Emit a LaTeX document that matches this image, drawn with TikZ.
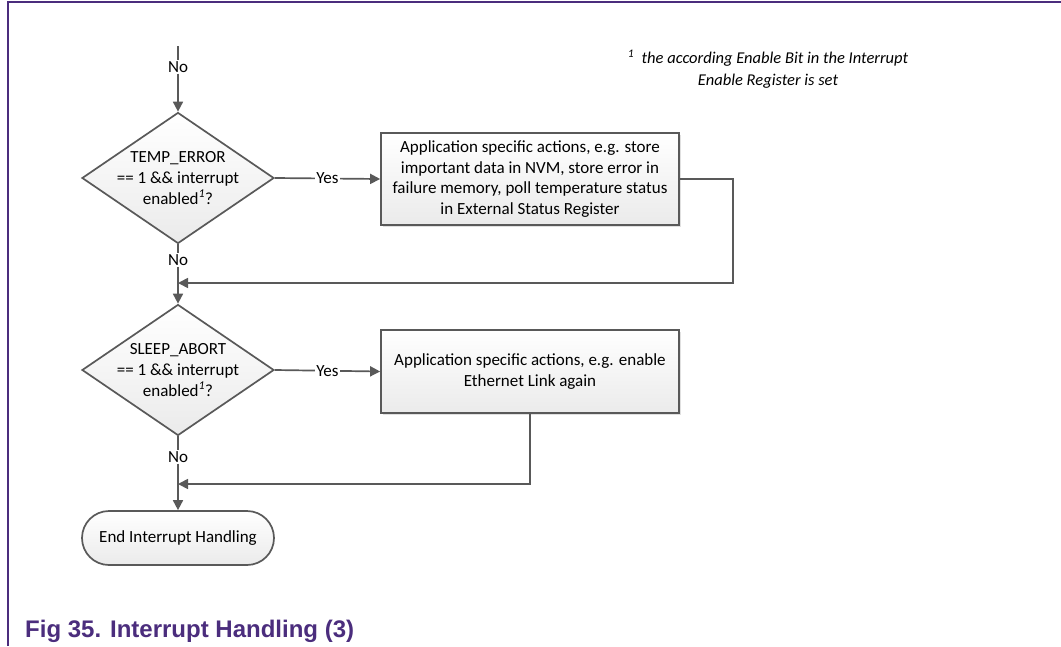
\documentclass[tikz,border=0pt]{standalone}
\usepackage{fontspec}
\setmainfont{Carlito}
\newfontfamily\capfont{Liberation Sans}
\usetikzlibrary{arrows.meta,shapes.geometric,shadows}
\definecolor{framepurple}{RGB}{75,45,125}
\definecolor{linegray}{RGB}{89,89,89}
\tikzset{
  base/.style={draw=linegray, line width=1.7pt, top color=white, bottom color=black!8},
  decision/.style={base, diamond, minimum width=192pt, minimum height=131pt, inner sep=0pt, shape aspect=1.466},
  actionbox/.style={base, rectangle, minimum width=298pt, inner sep=0pt,
     drop shadow={shadow xshift=2pt, shadow yshift=-2pt, fill=black!12, opacity=1}},
  terminal/.style={base, rectangle, rounded corners=27pt, minimum width=192pt, minimum height=54pt, inner sep=0pt},
  txt/.style={font=\fontsize{17}{20.7}\selectfont, align=center, text=black},
  lbl/.style={font=\fontsize{17}{20.7}\selectfont, fill=white, inner sep=1pt, text=black},
  conn/.style={draw=linegray, line width=1.7pt},
  arr/.style={conn, -{Triangle[length=10pt,width=10pt]}},
}
\begin{document}
\begin{tikzpicture}[x=1pt,y=-1pt]
\useasboundingbox (0,0) rectangle (1061,646);
\fill[white] (0,0) rectangle (1061,646);
% frame
\draw[framepurple, line width=1.6pt] (8,646) -- (8,2) -- (1061,2);

% footnote
\node[font=\fontsize{16.5}{22}\selectfont\itshape, align=center] (fn) at (768,69)
  {\textsuperscript{1}\ \ the according Enable Bit in the Interrupt\\Enable Register is set};

% nodes
\coordinate (start) at (178,46);
\node[lbl] (no0) at (178,67) {No};
\node[decision] (d1) at (178,178) {};
\node[txt] (d1t) at (178,178) {TEMP\_ERROR\\== 1 \&\& interrupt\\enabled\textsuperscript{\textit{1}}?};
\node[actionbox, minimum height=92pt] (b1) at (530,179) {};
\node[txt] (b1t) at (b1) {Application specific actions, e.g. store\\important data in NVM, store error in\\failure memory, poll temperature status\\in External Status Register};

\node[lbl] (no1) at (178,260) {No};
\coordinate (j1) at (178,283);
\coordinate (r1) at (733,283);

\node[decision] (d2) at (178,370) {};
\node[txt] (d2t) at (178,370) {SLEEP\_ABORT\\== 1 \&\& interrupt\\enabled\textsuperscript{\textit{1}}?};
\node[actionbox, minimum height=83pt] (b2) at (530,371.5) {};
\node[txt] (b2t) at (b2) {Application specific actions, e.g. enable\\Ethernet Link again};

\node[lbl] (no2) at (178,457) {No};
\coordinate (j2) at (178,484);
\coordinate (r2) at (530,484);

\node[terminal] (end) at (178,538) {};
\node[txt] (endt) at (end) {End Interrupt Handling};

% connectors
\draw[conn] (start) -- (no0.north);
\draw[arr] (no0.south) -- (d1.north);
\draw[arr] (d1.east) -- node[lbl] (y1) {Yes} (b1.west);
\draw[conn] (d1.south) -- (no1.north);
\draw[arr] (no1.south) -- (d2.north);
\draw[arr] (b1.east) -| (r1) -- (j1);
\draw[arr] (d2.east) -- node[lbl] (y2) {Yes} (b2.west);
\draw[conn] (d2.south) -- (no2.north);
\draw[arr] (no2.south) -- (end.north);
\draw[arr] (b2.south) -- (r2) -- (j2);

% caption
\node[anchor=base west, inner sep=0pt, font=\capfont\bfseries\fontsize{24}{28}\selectfont, text=framepurple] (cap) at (25,637) {Fig 35. Interrupt Handling (3)};
\end{tikzpicture}
\end{document}
